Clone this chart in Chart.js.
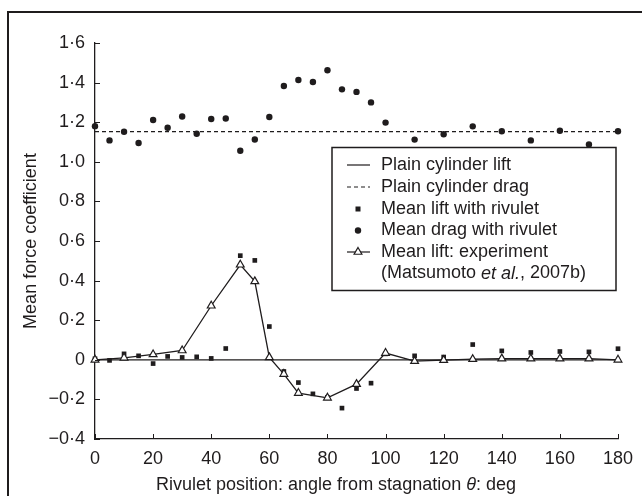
<!DOCTYPE html>
<html lang="en">
<head>
    <meta charset="UTF-8">
    <title>Mean force coefficient vs rivulet position</title>
    <script src="https://cdn.jsdelivr.net/npm/chart.js"></script>
    <style>
        body {
            margin: 0;
            background: #ffffff;
        }
        #chart {
            display: block;
        }
    </style>
</head>
<body>
    <canvas id="chart" width="642" height="496"></canvas>

    <script>
        // rivulet angles (deg) used by the simulation points
        const rivuletAngles = [0, 5, 10, 15, 20, 25, 30, 35, 40, 45, 50, 55, 60, 65, 70, 75, 80, 85, 90, 95, 100,
            110, 120, 130, 140, 150, 160, 170, 180];
        const meanDrag = [1.18, 1.108, 1.152, 1.095, 1.211, 1.172, 1.229, 1.142, 1.216, 1.219, 1.056, 1.113, 1.226,
            1.383, 1.413, 1.403, 1.462, 1.366, 1.353, 1.300, 1.198, 1.112, 1.139, 1.179, 1.154, 1.108, 1.157, 1.088, 1.154];
        const meanLift = [0.005, -0.003, 0.03, 0.02, -0.019, 0.017, 0.012, 0.015, 0.007, 0.057, 0.526, 0.502, 0.168,
            -0.059, -0.115, -0.172, -0.19, -0.244, -0.145, -0.118, 0.03, 0.02, 0.014, 0.077, 0.045, 0.037, 0.042, 0.04, 0.056];

        // experiment (Matsumoto et al., 2007b)
        const expAngles = [0, 10, 20, 30, 40, 50, 55, 60, 65, 70, 80, 90, 100, 110, 120, 130, 140, 150, 160, 170, 180];
        const expLift = [0.0, 0.01, 0.027, 0.047, 0.273, 0.48, 0.396, 0.012, -0.072, -0.168, -0.192, -0.123, 0.034,
            -0.007, -0.002, 0.003, 0.006, 0.006, 0.006, 0.006, 0.0];

        // plain cylinder reference values
        const plainLift = 0;
        const plainDrag = 1.152;

        const xTickLabels = ['0', '20', '40', '60', '80', '100', '120', '140', '160', '180'];
        const yTickLabels = ['\u22120\u00b74', '\u22120\u00b72', '0', '0\u00b72', '0\u00b74', '0\u00b76', '0\u00b78',
            '1\u00b70', '1\u00b72', '1\u00b74', '1\u00b76'];

        const INK = '#1f1c1d';
        const FONT = '"Liberation Sans", Arial, sans-serif';

        function pairs(xs, ys) {
            return xs.map((x, i) => ({ x: x, y: ys[i] }));
        }

        // frame, inward ticks, axis titles and the boxed legend
        const decor = {
            id: 'decor',
            beforeDraw(chart) {
                const c = chart.ctx;
                c.save();
                c.strokeStyle = INK;
                c.lineWidth = 2;
                c.beginPath();
                c.moveTo(8, 496);
                c.lineTo(8, 12);
                c.lineTo(642, 12);
                c.stroke();
                c.restore();
            },
            afterDraw(chart) {
                const c = chart.ctx;
                const xs = chart.scales.x, ys = chart.scales.y;
                const a = chart.chartArea;
                c.save();
                c.strokeStyle = INK;
                c.lineWidth = 1;
                c.beginPath();
                xs.ticks.forEach(t => {
                    const px = Math.round(xs.getPixelForValue(t.value)) + 0.5;
                    c.moveTo(px, a.bottom);
                    c.lineTo(px, a.bottom - 5);
                });
                ys.ticks.forEach(t => {
                    const py = Math.round(ys.getPixelForValue(t.value)) + 0.5;
                    c.moveTo(a.left, py);
                    c.lineTo(a.left + 5, py);
                });
                c.stroke();

                // axis titles
                c.fillStyle = INK;
                c.textBaseline = 'middle';
                c.font = '18px ' + FONT;
                c.save();
                c.translate(31, (a.top + a.bottom) / 2);
                c.rotate(-Math.PI / 2);
                c.textAlign = 'center';
                c.fillText('Mean force coefficient', 0, 0);
                c.restore();

                const p1 = 'Rivulet position: angle from stagnation ';
                const p2 = '\u03b8';
                const p3 = ': deg';
                c.textAlign = 'left';
                const w1 = c.measureText(p1).width, w3 = c.measureText(p3).width;
                c.font = 'italic 18px ' + FONT;
                const w2 = c.measureText(p2).width;
                let tx = 336 - (w1 + w2 + w3) / 2;
                c.font = '18px ' + FONT;
                c.fillText(p1, tx, 485);
                tx += w1;
                c.font = 'italic 18px ' + FONT;
                c.fillText(p2, tx, 485);
                tx += w2;
                c.font = '18px ' + FONT;
                c.fillText(p3, tx, 485);

                // legend box
                c.lineWidth = 1.5;
                c.strokeRect(332, 147.5, 284, 143);
                const sx = 358, tx0 = 381;
                const rows = [165, 187, 209, 230.5, 252, 273.5];
                c.lineWidth = 1.2;
                c.beginPath();
                c.moveTo(347, rows[0]); c.lineTo(370, rows[0]);
                c.stroke();
                c.setLineDash([4, 3]);
                c.beginPath();
                c.moveTo(347, rows[1]); c.lineTo(370, rows[1]);
                c.stroke();
                c.setLineDash([]);
                c.fillRect(sx - 2.5, rows[2] - 2.5, 5, 5);
                c.beginPath();
                c.arc(sx, rows[3], 3.2, 0, Math.PI * 2);
                c.fill();
                c.beginPath();
                c.moveTo(347, rows[4]); c.lineTo(370, rows[4]);
                c.stroke();
                c.beginPath();
                c.moveTo(sx, rows[4] - 4.5);
                c.lineTo(sx + 3.9, rows[4] + 2.25);
                c.lineTo(sx - 3.9, rows[4] + 2.25);
                c.closePath();
                c.fillStyle = '#ffffff';
                c.fill();
                c.stroke();
                c.fillStyle = INK;

                const labels = ['Plain cylinder lift', 'Plain cylinder drag', 'Mean lift with rivulet',
                    'Mean drag with rivulet', 'Mean lift: experiment'];
                labels.forEach((s, i) => c.fillText(s, tx0, rows[i]));
                let lx = tx0;
                const parts = [['(Matsumoto ', ''], ['et al.', 'italic '], [', 2007b)', '']];
                parts.forEach(([s, st]) => {
                    c.font = st + '18px ' + FONT;
                    c.fillText(s, lx, rows[5]);
                    lx += c.measureText(s).width;
                });
                c.restore();
            }
        };

        const ctx = document.getElementById('chart').getContext('2d');
        new Chart(ctx, {
            type: 'scatter',
            data: {
                datasets: [
                    {
                        label: 'Mean lift: experiment',
                        data: pairs(expAngles, expLift),
                        showLine: true,
                        clip: false,
                        borderColor: INK,
                        borderWidth: 1.3,
                        pointStyle: 'triangle',
                        pointRadius: 4.5,
                        pointBackgroundColor: '#ffffff',
                        pointBorderColor: INK,
                        pointBorderWidth: 1.2,
                        order: 0
                    },
                    {
                        label: 'Mean lift with rivulet',
                        data: pairs(rivuletAngles, meanLift),
                        clip: false,
                        pointStyle: 'rect',
                        pointRadius: 3.3,
                        pointBackgroundColor: INK,
                        pointBorderColor: INK,
                        pointBorderWidth: 0,
                        order: 1
                    },
                    {
                        label: 'Mean drag with rivulet',
                        data: pairs(rivuletAngles, meanDrag),
                        clip: false,
                        pointStyle: 'circle',
                        pointRadius: 3.2,
                        pointBackgroundColor: INK,
                        pointBorderColor: INK,
                        pointBorderWidth: 0,
                        order: 2
                    },
                    {
                        label: 'Plain cylinder drag',
                        data: [{ x: 0, y: plainDrag }, { x: 180, y: plainDrag }],
                        showLine: true,
                        borderColor: INK,
                        borderWidth: 1.2,
                        borderDash: [4, 3],
                        pointRadius: 0,
                        order: 3
                    },
                    {
                        label: 'Plain cylinder lift',
                        data: [{ x: 0, y: plainLift }, { x: 180, y: plainLift }],
                        showLine: true,
                        borderColor: INK,
                        borderWidth: 1.2,
                        pointRadius: 0,
                        order: 4
                    }
                ]
            },
            options: {
                responsive: false,
                animation: false,
                layout: { padding: { top: 43, right: 24, left: 0, bottom: 0 } },
                plugins: {
                    legend: { display: false },
                    tooltip: { enabled: false }
                },
                scales: {
                    x: {
                        type: 'linear',
                        min: 0,
                        max: 180,
                        afterFit(scale) { scale.height = 57; },
                        grid: { display: false },
                        border: { display: true, color: INK, width: 1.3 },
                        ticks: {
                            stepSize: 20,
                            padding: 1,
                            color: INK,
                            font: { family: FONT, size: 18 },
                            maxRotation: 0,
                            callback: (v, i) => xTickLabels[i]
                        }
                    },
                    y: {
                        min: -0.4,
                        max: 1.6,
                        afterFit(scale) { scale.width = 95; },
                        grid: { display: false },
                        border: { display: true, color: INK, width: 1.3 },
                        ticks: {
                            stepSize: 0.2,
                            padding: 2,
                            color: INK,
                            font: { family: FONT, size: 18 },
                            callback: (v, i) => yTickLabels[i]
                        }
                    }
                }
            },
            plugins: [decor]
        });
    </script>
</body>
</html>
